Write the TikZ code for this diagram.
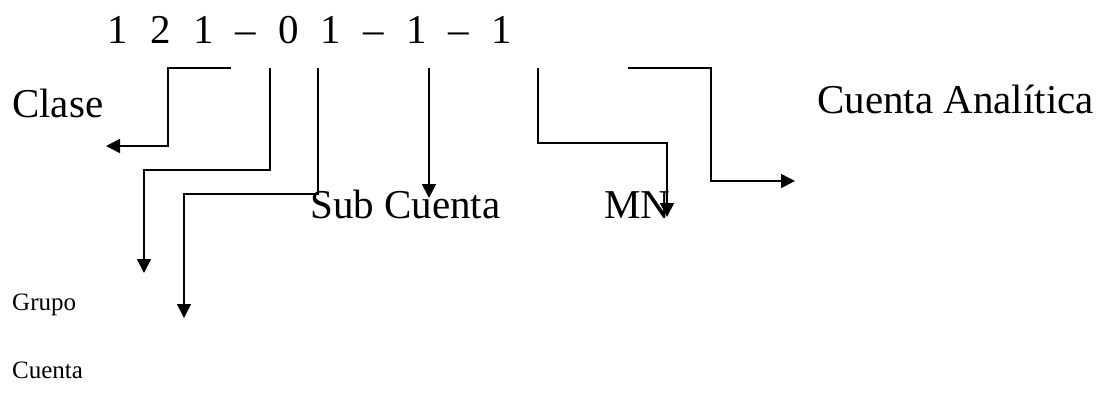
\documentclass[tikz,border=0pt]{standalone}
\usepackage{fontspec}
\setmainfont{Liberation Serif}
\usetikzlibrary{arrows.meta}

\newcommand{\bigtext}{\fontsize{41}{45}\selectfont}
\newcommand{\smalltext}{\fontsize{25}{28}\selectfont}
\newcommand{\cell}[1]{\makebox[42.6pt]{#1}}

\tikzset{
  label/.style={anchor=base west, inner sep=0pt, font=\bigtext},
  smalllabel/.style={anchor=base west, inner sep=0pt, font=\smalltext},
  link/.style={line width=1.6pt, -{Triangle[length=14pt,width=14pt]}},
}

\begin{document}
\begin{tikzpicture}[x=1pt,y=-1pt]
  \useasboundingbox (0,0) rectangle (1108,394);

  % account code
  \node[label] (code) at (96.7,43)
    {\cell{1}\cell{2}\cell{1}\cell{–}\cell{0}\cell{1}\cell{–}\cell{1}\cell{–}\cell{1}};

  % labels
  \node[label] (clase) at (12,117) {Clase};
  \node[label] (analitica) at (817,113) {Cuenta Analítica};
  \node[label] (subcuenta) at (310,218) {Sub Cuenta};
  \node[label] (mn) at (604,218) {MN};
  \node[smalllabel] (grupo) at (12,310) {Grupo};
  \node[smalllabel] (cuenta) at (12,378) {Cuenta};

  % connector ends
  \coordinate (claseS) at (231,68);
  \coordinate (claseE) at (106,146);
  \coordinate (grupoS) at (270,68);
  \coordinate (grupoE) at (144,273);
  \coordinate (cuentaS) at (318,68);
  \coordinate (cuentaE) at (184,318);
  \coordinate (subS) at (429,68);
  \coordinate (subE) at (429,198);
  \coordinate (mnS) at (538,68);
  \coordinate (mnE) at (667,217);
  \coordinate (anaS) at (628,68);
  \coordinate (anaE) at (795,181);

  % connectors
  \draw[link] (claseS) -- ++(-63,0) |- (claseE);
  \draw[link] (grupoS) |- ++(-126,102) -- (grupoE);
  \draw[link] (cuentaS) |- ++(-134,126) -- (cuentaE);
  \draw[link] (subS) -- (subE);
  \draw[link] (mnS) |- ++(129,75) -- (mnE);
  \draw[link] (anaS) -| ++(83,113) -- (anaE);
\end{tikzpicture}
\end{document}
